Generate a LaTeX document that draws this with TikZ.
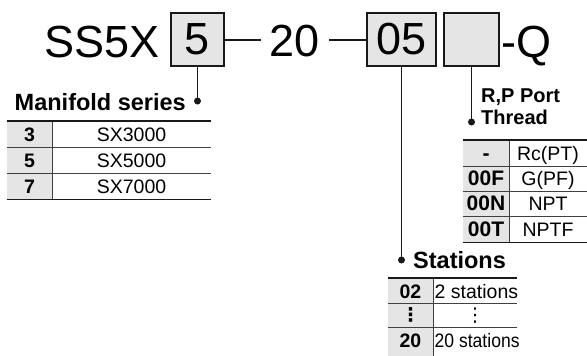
\documentclass[tikz,border=0pt]{standalone}
\usepackage{fontspec}
\setmainfont{Liberation Sans}
\newfontfamily\symfont{DejaVu Sans}
\usepackage{graphicx}
\usepackage{tikz}
\usetikzlibrary{positioning}

\begin{document}
\begin{tikzpicture}[
    x=1pt, y=-1pt,
    codetext/.style = {font=\fontsize{45}{45}\selectfont, inner sep=0pt},
    codebox/.style = {rectangle, draw=black!90, fill=black!10, line width=1.5pt, inner sep=0pt, minimum height=53pt, font=\fontsize{45}{45}\selectfont},
    joinline/.style = {draw=black!90, line width=2pt},
    leadline/.style = {draw=black!90, line width=1.4pt},
    enddot/.style = {circle, fill=black!90, inner sep=0pt, minimum size=7pt},
    heading/.style = {font=\bfseries\fontsize{23.5}{23.5}\selectfont, inner sep=0pt},
    keytext/.style = {font=\bfseries\fontsize{19.5}{19.5}\selectfont, inner sep=0pt, anchor=base},
    valtext/.style = {font=\fontsize{19.5}{19.5}\selectfont, inner sep=0pt, anchor=base},
    keycol/.style = {fill=black!10},
    topline/.style = {draw=black!90, line width=2pt},
    rowline/.style = {draw=black!75, line width=0.8pt}
]
\useasboundingbox (0,0) rectangle (587,356);

% Part number
\node (ss) [codetext, anchor=base west] at (44,57) {SS5X};
\node (b_series) [codebox, minimum width=53pt] at (197.5,39.5) {5};
\node (t_opt) [codetext, inner xsep=9pt] at (295,41) {20};
\node (b_stations) [codebox, minimum width=69pt] at (401.5,39.5) {05};
\node (b_thread) [codebox, minimum width=55pt] at (471.5,39.5) {};
\node (q) [codetext, anchor=base west] at (501,57) {-Q};

\draw [joinline] (b_series.east) -- (b_series.east -| t_opt.west);
\draw [joinline] (t_opt.east |- b_stations.west) -- (b_stations.west);

% Manifold series
\node (d_series) [enddot] at (197.5,101) {};
\node (h_series) [heading, anchor=base east] at (186,110) {Manifold series};
\draw [leadline] (b_series.south) -- (d_series.center);

\fill [keycol] (7,121) rectangle (52,199);
\draw [rowline] (7,147) -- (211,147);
\draw [rowline] (7,173) -- (211,173);
\draw [rowline] (52,121) -- (52,199);
\draw [rowline, black!90, line width=1pt] (7,199) -- (211,199);
\draw [topline] (7,121) -- (211,121);

\node (k_s3) [keytext] at (29.5,141) {3};
\node (v_s3) [valtext] at (131.5,141) {SX3000};
\node (k_s5) [keytext] at (29.5,167) {5};
\node (v_s5) [valtext] at (131.5,167) {SX5000};
\node (k_s7) [keytext] at (29.5,193) {7};
\node (v_s7) [valtext] at (131.5,193) {SX7000};

% R,P port thread
\node (d_thread) [enddot] at (471.5,122) {};
\node (h_thread) [heading, font=\bfseries\fontsize{20}{22}\selectfont, align=left, anchor=south west] at (481,125) {R,P Port\\Thread};
\draw [leadline] (b_thread.south) -- (d_thread.center);

\fill [keycol] (463,140) rectangle (509,242);
\draw [rowline] (463,166) -- (587,166);
\draw [rowline] (463,191) -- (587,191);
\draw [rowline] (463,216) -- (587,216);
\draw [rowline] (509,140) -- (509,242);
\draw [rowline, black!90, line width=1pt] (463,242) -- (587,242);
\draw [topline] (463,140) -- (587,140);

\node (k_rc) [keytext, font=\bfseries\fontsize{21}{21}\selectfont] at (486,160) {-};
\node (v_rc) [valtext] at (548,160) {Rc(PT)};
\node (k_g) [keytext, font=\bfseries\fontsize{21}{21}\selectfont] at (486,185.5) {00F};
\node (v_g) [valtext] at (548,185.5) {G(PF)};
\node (k_npt) [keytext, font=\bfseries\fontsize{21}{21}\selectfont] at (486,210.5) {00N};
\node (v_npt) [valtext] at (548,210.5) {NPT};
\node (k_nptf) [keytext, font=\bfseries\fontsize{21}{21}\selectfont] at (486,236) {00T};
\node (v_nptf) [valtext] at (548,236) {NPTF};

% Stations
\node (d_stations) [enddot] at (401.5,260) {};
\node (h_stations) [heading, anchor=base west] at (413,268) {Stations};
\draw [leadline] (b_stations.south) -- (d_stations.center);

\fill [keycol] (388,278) rectangle (433,356);
\draw [rowline] (388,303) -- (517,303);
\draw [rowline] (388,327) -- (517,327);
\draw [rowline] (433,278) -- (433,356);
\draw [topline] (388,278) -- (517,278);

\node (k_02) [keytext] at (410.5,298) {02};
\node (v_02) [valtext, anchor=base west] at (434.5,298) {2 stations};
\node (k_dots) [keytext, font=\symfont\bfseries\fontsize{19}{19}\selectfont] at (410.5,321) {⋮};
\node (v_dots) [valtext, font=\symfont\fontsize{19}{19}\selectfont] at (475,321) {⋮};
\node (k_20) [keytext] at (410.5,347) {20};
\node (v_20) [valtext, anchor=base west] at (434.5,347) {\scalebox{0.9}[1]{20 stations}};

\end{tikzpicture}
\end{document}
